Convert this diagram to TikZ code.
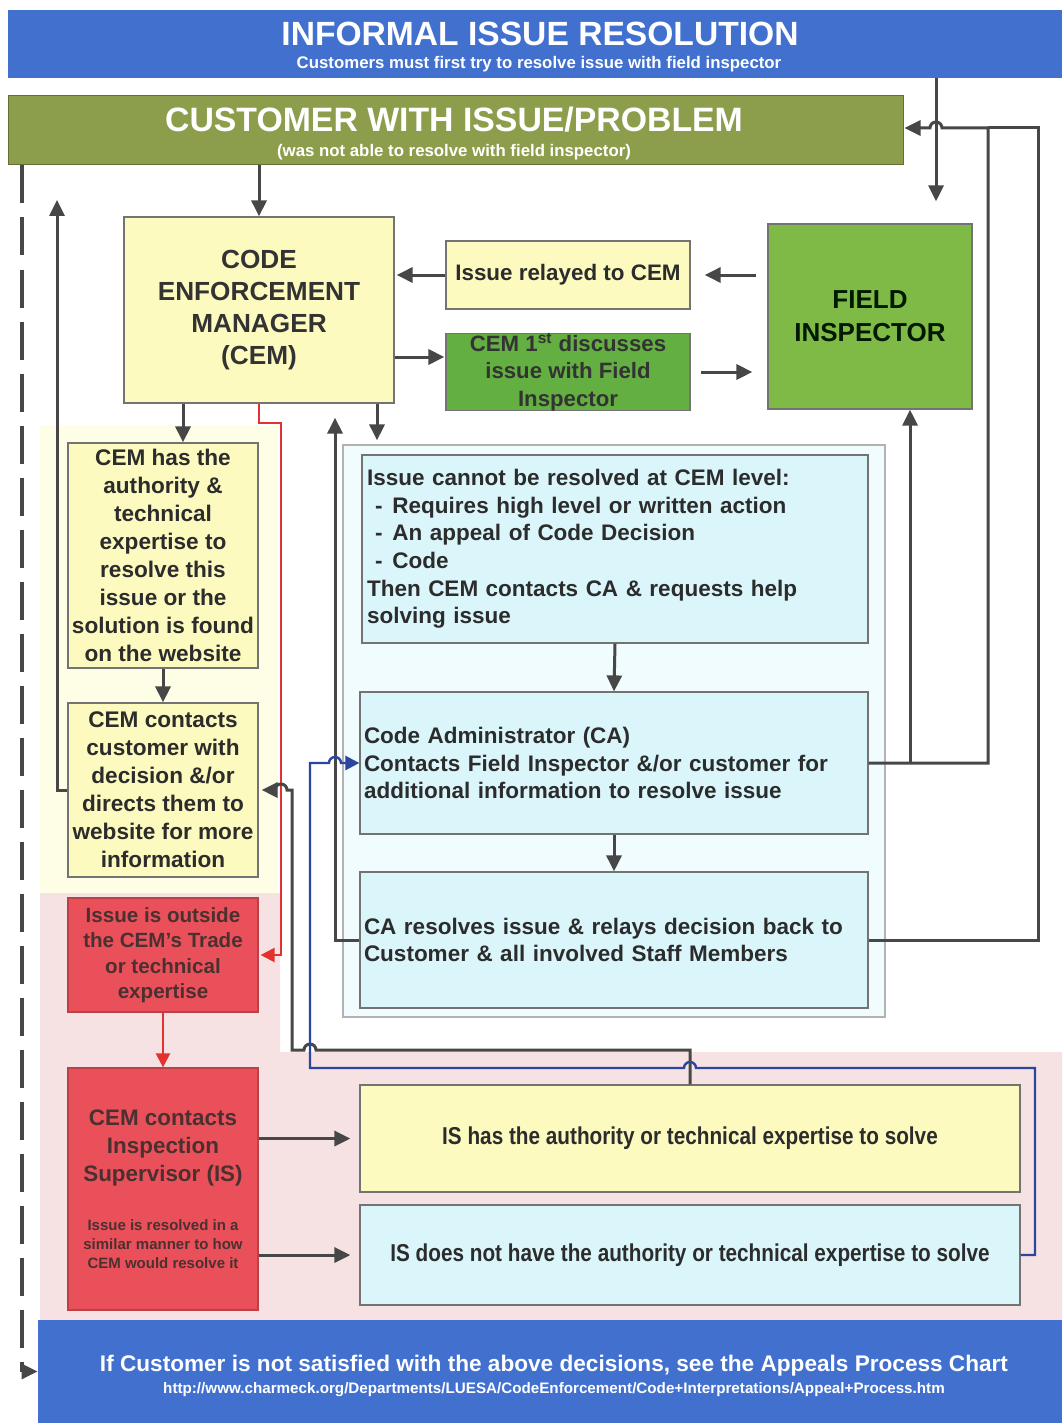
\documentclass[tikz,border=0pt]{standalone}
\usepackage{fontspec}
\setmainfont{Liberation Sans}
\newfontfamily\narrowf[FakeStretch=0.85]{Liberation Sans}
\usetikzlibrary{arrows.meta,calc,fit}
\definecolor{hdrblue}{HTML}{4170CF}
\definecolor{olivebar}{HTML}{8C9E4B}
\definecolor{figreen}{HTML}{7FBA47}
\definecolor{dgreen}{HTML}{63AF42}
\definecolor{yel}{HTML}{FCFABF}
\definecolor{paleyel}{HTML}{FEFEE6}
\definecolor{pinkbg}{HTML}{F6E2E2}
\definecolor{redbox}{HTML}{EA5059}
\definecolor{ltblue}{HTML}{DAF6FB}
\definecolor{paleblue}{HTML}{F0FCFE}
\definecolor{redline}{HTML}{E2322F}
\definecolor{blueline}{HTML}{2B46A0}
\definecolor{lineg}{HTML}{474747}
\definecolor{txt}{HTML}{2C2C2C}
\definecolor{redtxt}{HTML}{4A3030}
\newcommand\setfs[2]{\fontsize{#1}{#2}\selectfont}
\tikzset{
  box/.style={draw=black!55, line width=0.6pt, inner sep=0pt, align=center, text=txt},
  bar/.style={inner sep=0pt},
  arr/.style={draw=lineg, line width=1.5pt, -{Triangle[length=8pt,width=7.5pt]}},
  ln/.style={draw=lineg, line width=1.5pt},
  redarr/.style={draw=redline, line width=1.1pt, -{Triangle[length=7pt,width=7pt]}},
  bluearr/.style={draw=blueline, line width=1.2pt, -{Triangle[length=7pt,width=7pt]}},
  dashline/.style={draw=lineg, line width=1.6pt, dash pattern=on 19pt off 7pt},
  ttl/.style={text=white, font=\bfseries, inner sep=0pt}
}
\begin{document}
\begin{tikzpicture}[x=0.5pt,y=-0.5pt]
\useasboundingbox (0,0) rectangle (1062,1423);
\fill[white] (0,0) rectangle (1062,1423);
% background panels
\fill[paleyel] (40,425) rectangle (278,893);
\fill[pinkbg] (40,893) -- (280,893) -- (280,1052) -- (1062,1052) -- (1062,1320) -- (40,1320) -- cycle;
\node[box, fill=paleblue, draw=black!30, fit={(343,445)(885,1017)}] (panel) {};

% rail coordinates
\coordinate (xA) at (936,0);
\coordinate (xB) at (988,0);
\coordinate (xC) at (1038,0);
\coordinate (xD) at (910,0);
\coordinate (yH) at (0,128);
\coordinate (xL) at (57,0);
\coordinate (yTop) at (0,200);
\coordinate (xR) at (281,0);
\coordinate (yR) at (0,423);
\coordinate (xK) at (292,0);
\coordinate (yK) at (0,1050);
\coordinate (xU) at (310,0);
\coordinate (yU) at (0,1068);
\coordinate (xE) at (1035,0);
\coordinate (xV) at (335,0);
\coordinate (xW) at (377,0);
\coordinate (x183) at (183,0);
\coordinate (y357) at (0,357);
\coordinate (xDash) at (22,0);

% header
\node[bar, fill=hdrblue, fit={(8,10)(1062,78)}] (hdr) {};
\node[ttl, anchor=base, font=\bfseries\setfs{16.8}{18}] (hdrt) at (540,46) {INFORMAL ISSUE RESOLUTION};
\node[ttl, anchor=base, font=\bfseries\setfs{8.4}{10}] (hdrs) at (539,69) {Customers must first try to resolve issue with field inspector};

% customer
\node[bar, fill=olivebar, draw=olivebar!70!black, line width=0.5pt, fit={(8,96)(903,165)}] (cust) {};
\node[ttl, anchor=base, font=\bfseries\setfs{16.9}{18}] (custt) at (454,132) {CUSTOMER WITH ISSUE/PROBLEM};
\node[ttl, anchor=base, font=\bfseries\setfs{8.4}{10}] (custs) at (454,157) {(was not able to resolve with field inspector)};

% main boxes
\node[box, fill=yel, minimum width=135pt, minimum height=93pt, font=\bfseries\setfs{13.1}{16}, text=black!80] (cem) at (259,310) {CODE\\ENFORCEMENT\\MANAGER\\(CEM)};
\node[box, fill=yel, minimum width=122pt, minimum height=34pt, font=\bfseries\setfs{11.2}{13.5}] (relay) at (568,275) {Issue relayed to CEM};
\node[box, fill=dgreen, minimum width=122pt, minimum height=38pt, font=\bfseries\setfs{11.1}{13.75}, text=black!80] (disc) at (568,372) {CEM 1\textsuperscript{st} discusses\\issue with Field\\Inspector};
\node[box, fill=figreen, minimum width=102pt, minimum height=92.5pt, font=\bfseries\setfs{13}{16.5}, text=black!75!green!40!black] (fi) at (870,316.5) {FIELD\\INSPECTOR};

\node[box, fill=yel, minimum width=95pt, minimum height=112.5pt, font=\bfseries\setfs{11.3}{14}] (auth) at (163,555.5) {CEM has the\\authority \&\\technical\\expertise to\\resolve this\\issue or the\\solution is found\\on the website};
\node[box, fill=yel, minimum width=95pt, minimum height=87pt, font=\bfseries\setfs{11.3}{14}] (contact) at (163,790) {CEM contacts\\customer with\\decision \&/or\\directs them to\\website for more\\information};
\node[box, fill=redbox, draw=redbox!80!black, minimum width=95pt, minimum height=57pt, font=\bfseries\setfs{10.3}{12.75}, text=redtxt] (outside) at (163,955) {Issue is outside\\the CEM's Trade\\or technical\\expertise};
\node[box, fill=redbox, draw=redbox!80!black, minimum width=95pt, minimum height=121pt] (ctis) at (163,1189) {};
\node[align=center, inner sep=0pt, font=\bfseries\setfs{11.2}{14}, text=redtxt] (ctist) at (163,1148) {CEM contacts\\Inspection\\Supervisor (IS)};
\node[align=center, inner sep=0pt, font=\bfseries\setfs{7.5}{9.5}, text=redtxt] (ctisn) at (163,1244) {Issue is resolved in a\\similar manner to how\\CEM would resolve it};

\node[box, fill=ltblue, minimum width=253pt, minimum height=94pt, align=left, text width=248pt, font=\bfseries\setfs{11.25}{13.8}] (cannot) at (615,549) {Issue cannot be resolved at CEM level:\\
\hspace*{4pt}-\hspace*{5pt}Requires high level or written action\\
\hspace*{4pt}-\hspace*{5pt}An appeal of Code Decision\\
\hspace*{4pt}-\hspace*{5pt}Code\\
Then CEM contacts CA \& requests help\\
solving issue};
\node[box, fill=ltblue, minimum width=254pt, minimum height=71pt, align=left, text width=250pt, font=\bfseries\setfs{11.25}{13.8}] (ca) at (614,763) {Code Administrator (CA)\\Contacts Field Inspector \&/or customer for\\additional information to resolve issue};
\node[box, fill=ltblue, minimum width=254pt, minimum height=68pt, align=left, text width=250pt, font=\bfseries\setfs{11.25}{13.8}] (car) at (614,940) {CA resolves issue \& relays decision back to\\Customer \& all involved Staff Members};

\node[box, fill=yel, minimum width=330pt, minimum height=53.5pt, font=\narrowf\bfseries\setfs{12.2}{14}] (ishas) at (690,1138.5) {IS has the authority or technical expertise to solve};
\node[box, fill=ltblue, minimum width=330pt, minimum height=50pt, font=\narrowf\bfseries\setfs{12.2}{14}] (isnot) at (690,1255) {IS does not have the authority or technical expertise to solve};

% footer
\node[bar, fill=hdrblue, fit={(38,1320)(1062,1423)}] (foot) {};
\node[ttl, anchor=base, font=\bfseries\setfs{11.3}{13}] (foott) at (554,1371) {If Customer is not satisfied with the above decisions, see the Appeals Process Chart};
\node[ttl, anchor=base, font=\bfseries\setfs{7.6}{9}] (footu) at (554,1393) {http://www.charmeck.org/Departments/LUESA/CodeEnforcement/Code+Interpretations/Appeal+Process.htm};

% connectors
\draw[arr] (cust.south -| cem.north) -- (cem.north);
\draw[arr] (hdr.south -| xA) -- ($(fi.north -| xA)+(0,-22)$);
\draw[arr] ($(fi.west |- relay.east)+(-11,0)$) -- ($(relay.east)+(14,0)$);
\draw[arr] (relay.west) -- ($(cem.east |- relay.west)+(2,0)$);
\draw[arr] (cem.east |- y357) -- ($(disc.west |- y357)+(-1,0)$);
\draw[arr] ($(disc.east)+(10,0)$) -- ($(fi.west |- disc.east)+(-15,0)$);
\draw[arr] (cem.south -| x183) -- (auth.north -| x183);
\draw[arr] (auth.south) -- (contact.north);
\draw[arr] (contact.west) -- (contact.west -| xL) -- (xL |- yTop);
\draw[redarr] (cem.south) -- (cem.south |- yR) -- (xR |- yR) -- (xR |- outside.east) -- ($(outside.east)+(2,0)$);
\draw[redarr] (outside.south) -- (ctis.north);
\draw[arr] (ctis.east |- ishas.west) -- ($(ishas.west)+(-9,0)$);
\draw[arr] (ctis.east |- isnot.west) -- ($(isnot.west)+(-9,0)$);
\draw[arr] (cannot.south) -- (ca.north);
\draw[arr] (ca.south) -- (car.north);
\draw[arr] (cem.south -| xW) -- ($(panel.north -| xW)+(0,-4)$);
\draw[arr] (car.west) -- (car.west -| xV) -- ($(cem.south -| xV)+(0,14)$);
\draw[arr] (ca.east) -- (ca.east -| xB) -- (xB |- yH) -- ($(xA |- yH)+(6,0)$) arc[start angle=0,end angle=180,radius=3pt] -- ($(cust.east |- yH)+(1,0)$);
\draw[arr] (ca.east -| xD) -- (fi.south -| xD);
\draw[ln] (car.east) -- (car.east -| xC) -- (xC |- yH) -- (xB |- yH);
\draw[arr] (ishas.north) -- (ishas.north |- yK) -- ($(xU |- yK)+(6,0)$) arc[start angle=0,end angle=180,radius=3pt] -- (xK |- yK) -- (xK |- contact.east) -- ($(xR |- contact.east)+(6,0)$) arc[start angle=0,end angle=180,radius=3pt] -- ($(contact.east)+(3,0)$);
\draw[bluearr] (isnot.east) -- (isnot.east -| xE) -- (xE |- yU) -- ($(ishas.north |- yU)+(6,0)$) arc[start angle=0,end angle=180,radius=3pt] -- (xU |- yU) -- (xU |- ca.west) -- ($(xV |- ca.west)+(-6,0)$) arc[start angle=180,end angle=0,radius=3pt] -- (ca.west);
\draw[dashline] (cust.south -| xDash) -- (foot.west -| xDash);
\draw[arr] (foot.west -| xDash) -- (foot.west);
\end{tikzpicture}
\end{document}
